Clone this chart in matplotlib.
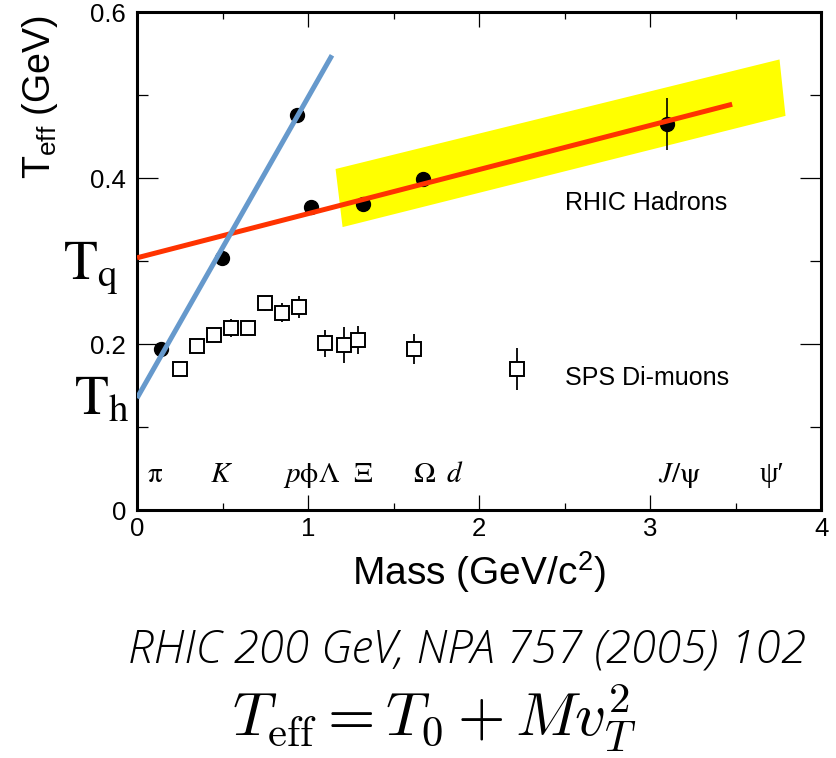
import matplotlib.pyplot as plt
import numpy as np
from matplotlib.ticker import MultipleLocator

# RHIC hadrons: effective slope temperature vs mass
hadron_mass = [0.14, 0.494, 0.938, 1.02, 1.32, 1.67, 3.10]
hadron_teff = [0.194, 0.304, 0.476, 0.365, 0.369, 0.399, 0.465]
hadron_err = [0.003, 0.003, 0.004, 0.004, 0.004, 0.004, 0.031]

# SPS di-muons (NA60)
dimuon_mass = [0.25, 0.35, 0.45, 0.55, 0.65, 0.75, 0.85, 0.95, 1.10, 1.21, 1.29, 1.62, 2.22]
dimuon_teff = [0.170, 0.198, 0.211, 0.219, 0.219, 0.249, 0.238, 0.245, 0.201, 0.199, 0.205, 0.194, 0.170]
dimuon_err = [0.004, 0.005, 0.005, 0.011, 0.000, 0.009, 0.011, 0.013, 0.016, 0.022, 0.017, 0.018, 0.025]

# linear fits T_eff = T0 + M v_T^2
quark_fit_x = [0.0, 3.48]
quark_fit_y = [0.304, 0.489]
hadron_fit_x = [0.0, 1.14]
hadron_fit_y = [0.135, 0.548]

# shaded band around the heavier hadrons
band_x = [1.161, 3.757, 3.792, 1.202]
band_y = [0.411, 0.543, 0.475, 0.341]

# particle names along the bottom
particle_pos = [0.108, 0.494, 1.02, 1.32, 1.68, 1.86, 3.17, 3.71]
particle_names = [r"$\mathrm{\pi}$", r"$K$", r"$p\mathrm{\phi\Lambda}$", r"$\mathrm{\Xi}$",
                  r"$\mathrm{\Omega}$", r"$d$", r"$J/\mathrm{\psi}$", "ψ′"]

plt.rcParams["font.family"] = ["Liberation Sans", "DejaVu Sans"]

fig = plt.figure(figsize=(8.37, 7.58), dpi=100)
ax = fig.add_axes([0.1637, 0.327, 0.8173, 0.657])

ax.fill(band_x, band_y, color="#ffff00", lw=0, zorder=1)

ax.errorbar(hadron_mass, hadron_teff, yerr=hadron_err, fmt="o", color="black",
            ms=10, elinewidth=1.2, capsize=0, zorder=3)
ax.errorbar(dimuon_mass, dimuon_teff, yerr=dimuon_err, fmt="s", mfc="white", mec="black",
            mew=1.4, ecolor="black", ms=9.5, elinewidth=1.3, capsize=0, zorder=3)

ax.plot(quark_fit_x, quark_fit_y, color="#ff3300", lw=3.6, solid_capstyle="butt", zorder=4)
ax.plot(hadron_fit_x, hadron_fit_y, color="#6699cc", lw=3.6, solid_capstyle="butt", zorder=4)

ax.text(2.5, 0.37, "RHIC Hadrons", fontsize=18, ha="left", va="center")
ax.text(2.5, 0.159, "SPS Di-muons", fontsize=18, ha="left", va="center")

for xp, name in zip(particle_pos, particle_names):
    ax.text(xp, 0.042, name, fontsize=21, ha="center", va="center",
            math_fontfamily="stix", family=["Liberation Serif", "DejaVu Serif"])

ax.set_xlim(0, 4)
ax.set_ylim(0, 0.6)
ax.xaxis.set_major_locator(MultipleLocator(1))
ax.xaxis.set_minor_locator(MultipleLocator(0.5))
ax.yaxis.set_major_locator(MultipleLocator(0.2))
ax.yaxis.set_minor_locator(MultipleLocator(0.1))
ax.xaxis.set_major_formatter(plt.FuncFormatter(lambda v, p: f"{v:g}"))
ax.yaxis.set_major_formatter(plt.FuncFormatter(lambda v, p: f"{v:g}"))

ax.tick_params(axis="both", which="both", direction="in", top=True, right=True,
               width=0.9, labelsize=18.5)
ax.tick_params(axis="x", which="major", length=10.5, pad=5)
ax.tick_params(axis="x", which="minor", length=5)
ax.tick_params(axis="y", which="major", length=15, pad=8)
ax.tick_params(axis="y", which="minor", length=8)
for sp in ax.spines.values():
    sp.set_linewidth(2.2)

ax.set_xlabel(r"Mass (GeV/c$^\mathregular{2}$)", fontsize=28, labelpad=6)
fig.text(40 / 837, 1 - 97 / 758, r"T$_\mathregular{eff}$ (GeV)", fontsize=27,
         rotation=90, ha="center", va="center")

# temperature markers on the left of the axis
fig.text(91 / 837, 1 - 268 / 758, r"$\mathrm{T}_\mathrm{q}$", fontsize=40,
         ha="center", va="center", math_fontfamily="stix")
fig.text(102 / 837, 1 - 400 / 758, r"$\mathrm{T}_\mathrm{h}$", fontsize=40,
         ha="center", va="center", math_fontfamily="stix")

fig.text(467 / 837, 1 - 650 / 758, "RHIC 200 GeV, NPA 757 (2005) 102",
         family=["Open Sans", "DejaVu Sans"], style="italic", weight="light",
         fontsize=33, ha="center", va="center")
fig.text(434 / 837, 1 - 718 / 758, r"$T_{\rm eff} = T_0 + M v_T^2$", fontsize=44,
         ha="center", va="center", math_fontfamily="cm")

fig.savefig("out.png", dpi=100)
